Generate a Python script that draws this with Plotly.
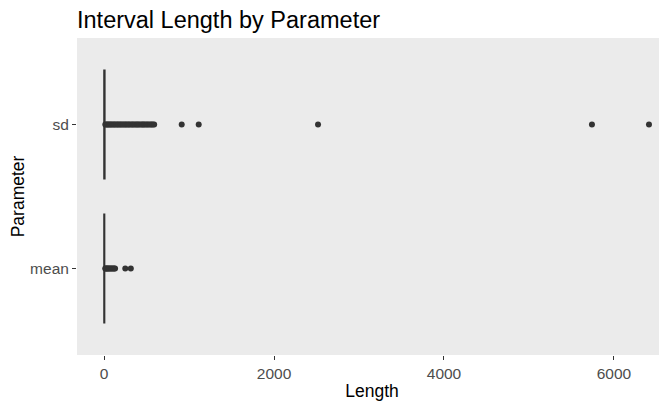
import plotly.graph_objects as go

# categories (bottom to top)
params = ["mean", "sd"]

# box summary stats per parameter (box is squashed near zero)
lower_fence = [0, 0]
q1 = [1, 1]
median = [2, 3]
q3 = [5, 8]
upper_fence = [10, 12]

# outlying interval lengths
mean_outliers = [14, 22, 31, 40, 50, 61, 72, 84, 95, 108, 120, 130, 250, 315]
sd_outliers = [15, 28, 40, 52, 65, 78, 90, 105, 118, 130, 145, 160, 172, 188,
               200, 215, 230, 245, 258, 272, 288, 300, 318, 332, 345, 362, 378,
               390, 405, 420, 438, 452, 466, 480, 497, 512, 528, 545, 560, 575,
               590, 914, 1114, 2518, 5741, 6412]

x_ticks = [0, 2000, 4000, 6000]

dark = "#333333"
font_family = "Liberation Sans, Arial, sans-serif"

# the page body adds an 8px offset, so the figure is shrunk by that much
fig = go.Figure()

fig.add_trace(go.Box(
    y=params,
    q1=q1, median=median, q3=q3,
    lowerfence=lower_fence, upperfence=upper_fence,
    orientation="h",
    width=0.75,
    whiskerwidth=0,
    fillcolor="white",
    line=dict(color=dark, width=1.8),
    boxpoints=False,
    showlegend=False,
    hoverinfo="skip",
))

out_x = mean_outliers + sd_outliers
out_y = ["mean"] * len(mean_outliers) + ["sd"] * len(sd_outliers)
fig.add_trace(go.Scatter(
    x=out_x, y=out_y,
    mode="markers",
    marker=dict(color=dark, size=6, line=dict(width=0)),
    showlegend=False,
))

fig.update_layout(
    width=659, height=395,
    paper_bgcolor="white",
    plot_bgcolor="#EBEBEB",
    margin=dict(l=69, r=0, t=30, b=48, pad=0),
    font=dict(family=font_family, color="#4D4D4D", size=15),
    title=dict(
        text="Interval Length by Parameter",
        font=dict(size=23.5, color="black", family=font_family),
        xref="paper", x=0, xanchor="left",
        yref="container", y=1 - 12 / 395, yanchor="middle",
    ),
)

fig.update_xaxes(
    range=[-318, 6624],
    tickvals=x_ticks,
    ticktext=[str(v) for v in x_ticks],
    showgrid=False, zeroline=False,
    ticks="outside", ticklen=4, tickwidth=1, tickcolor=dark,
    tickfont=dict(size=15.5, color="#4D4D4D"),
    title=dict(text="Length", font=dict(size=17.5, color="black"), standoff=4),
    showline=False, automargin=False,
)

fig.update_yaxes(
    type="category",
    categoryorder="array", categoryarray=params,
    range=[-0.6, 1.6],
    showgrid=False, zeroline=False,
    ticks="outside", ticklen=4, tickwidth=1, tickcolor=dark,
    tickfont=dict(size=15.5, color="#4D4D4D"),
    title=dict(text="Parameter", font=dict(size=17.5, color="black"), standoff=4),
    showline=False, automargin=False,
)

fig.write_html("out.html")
